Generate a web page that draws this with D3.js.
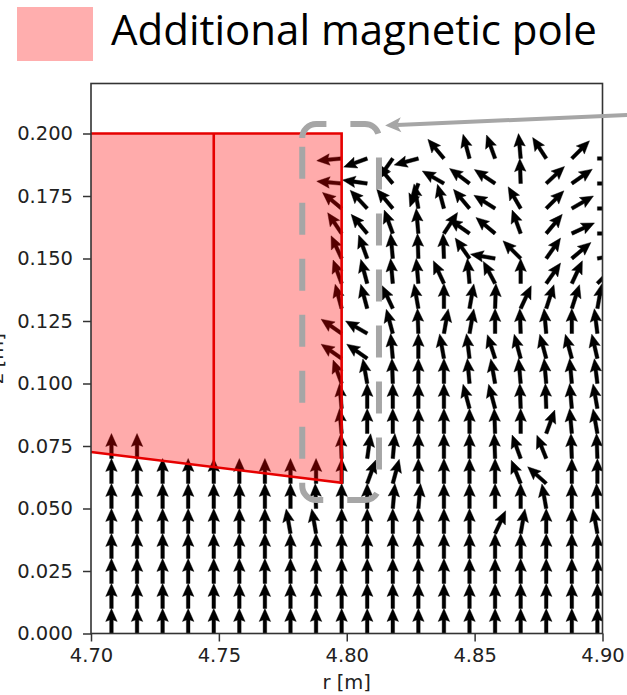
<!DOCTYPE html>
<html><head><meta charset="utf-8">
<script src="https://cdn.jsdelivr.net/npm/d3@7"></script>
<style>body{margin:0;background:#fff}svg{display:block}</style>
</head><body>
<svg id="chart" width="627" height="695"></svg>
<script>
const N = null;
// grid of arrow tails (r in m, z in m); rows of angles listed top (z=0.19) to bottom (z=0.00)
const rGrid = [4.708, 4.718, 4.728, 4.738, 4.748, 4.758, 4.768, 4.778, 4.788, 4.798,
               4.808, 4.818, 4.828, 4.838, 4.848, 4.858, 4.868, 4.878, 4.888, 4.898];
const zGrid = [0.19, 0.18, 0.17, 0.16, 0.15, 0.14, 0.13, 0.12, 0.11, 0.10,
               0.09, 0.08, 0.07, 0.06, 0.05, 0.04, 0.03, 0.02, 0.01, 0.00];
// field direction in degrees (0 = +r, 90 = +z); null = inside the pole, no arrow
const fieldAngle = [
  [N,N,N,N,N,N,N,N,N, 185,200,235,195,130,105,110, 95,123, 45,  0],
  [N,N,N,N,N,N,N,N,N, 175,172,130,250,150,143,146, 92, 43, 35,  0],
  [N,N,N,N,N,N,N,N,N, 140,133,130,100,105,130,148,120, 45, 30,  0],
  [N,N,N,N,N,N,N,N,N, 124,130,110, 95, 57,145,140,110, 50, 25,  0],
  [N,N,N,N,N,N,N,N,N, 115,110, 95, 92, 92,125,170,135, 55, 40, 10],
  [N,N,N,N,N,N,N,N,N, 110,105, 95, 95,115, 95,118, 90, 55, 65, 45],
  [N,N,N,N,N,N,N,N,N, 105,105,115,100, 90, 80, 88, 65, 72, 72, 80],
  [N,N,N,N,N,N,N,N,N, 145,150,105, 92, 80, 80, 90, 92, 95, 90, 97],
  [N,N,N,N,N,N,N,N,N, 145,145, 95, 90,100, 97,108,105,105,105,103],
  [N,N,N,N,N,N,N,N,N, 110,100, 92, 90, 90, 95,100, 95, 95, 95, 97],
  [N,N,N,N,N,N,N,N,N,  95, 90, 90, 90, 90,105,105, 92, 92, 95,100],
  [N,N,N,N,N,N,N,N,N,  95, 90, 90, 90, 90, 90, 92, 90, 70, 95,100],
  [90,90,N,N,N,N,N,N,N, 92, 82, 85, 90, 90, 90, 92,110,112, 92, 92],
  [90,90,90,90,90,90,90,90,90, 90, 70, 75, 90, 90, 90, 90,112,138, 90, 90],
  [90,90,90,90,90,90,90,90,92, 90, 90, 85, 85, 90, 90, 90, 90,100, 90, 92],
  [90,90,90,90,90,90,90,100,100, 90, 90, 90, 90, 90, 90, 65, 80, 90, 90,100],
  [90,90,90,90,90,90,90,90,90, 90, 90, 90, 90, 90, 90, 90, 90, 90, 90, 90],
  [90,90,90,90,90,90,90,90,90, 90, 90, 90, 90, 90, 90, 90, 90, 90, 90, 90],
  [90,90,90,90,90,90,90,90,90, 90, 90, 90, 90, 90, 90, 90, 90, 90, 90, 90],
  [90,90,90,90,90,90,90,90,90, 90, 90, 90, 90, 90, 90, 90, 90, 90, 90, 90]
];
const arrowStep = 0.01;           // arrow length in z units (one grid step)
const xTicks = [4.70, 4.75, 4.80, 4.85, 4.90];
const yTicks = [0, 0.025, 0.05, 0.075, 0.1, 0.125, 0.15, 0.175, 0.2];
const poleR = [4.700, 4.700, 4.798, 4.798];
const poleZ = [0.0726, 0.200, 0.200, 0.0603];
const dividerR = [4.748, 4.748];
const dividerZ = [0.0666, 0.200];
const boxR = [4.7826, 4.8126];
const boxZ = [0.0534, 0.2038];
const pointerR = [4.9096, 4.815];
const pointerZ = [0.2074, 0.2032];
const legendLabel = "Additional magnetic pole";
const xLabel = "r [m]";
const yLabel = "z [m]";

const svg = d3.select("#chart");
const x = d3.scaleLinear().domain([4.70, 4.90]).range([91, 602.5]);
const y = d3.scaleLinear().domain([0, 0.22]).range([633.5, 83.5]);
const [x0, x1] = x.range();
const [yB, yT] = y.range();

svg.append("defs").append("clipPath").attr("id", "clip")
  .append("rect").attr("x", x0).attr("y", yT).attr("width", x1 - x0).attr("height", yB - yT);

// arrows
const L = y(0) - y(arrowStep);
const w = 3.6, hw = 11.5, hl = 13, hal = 11.5;
const arrowPts = [[0,-w/2],[L-hal,-w/2],[L-hl,-hw/2],[L,0],[L-hl,hw/2],[L-hal,w/2],[0,w/2]];
const arrowPath = "M" + arrowPts.map(p => p.join(",")).join("L") + "Z";
const cells = [];
zGrid.forEach((z, j) => rGrid.forEach((r, i) => {
  const a = fieldAngle[j][i];
  if (a !== null) cells.push({r, z, a});
}));
svg.append("g").attr("clip-path", "url(#clip)")
  .selectAll("path").data(cells).join("path")
  .attr("d", arrowPath)
  .attr("transform", d => `translate(${x(d.r)},${y(d.z)}) rotate(${-d.a})`)
  .attr("fill", "#000").attr("stroke", "#000").attr("stroke-width", 0.4);

// pole
const polePts = poleR.map((r, k) => [x(r), y(poleZ[k])]);
svg.append("path").attr("d", d3.line()(polePts) + "Z")
  .attr("fill", "#ff0000").attr("fill-opacity", 0.33).attr("stroke", "none");
svg.append("path").attr("d", d3.line()(polePts.slice(1)) + "L" + polePts[0].join(","))
  .attr("fill", "none").attr("stroke", "#e60000").attr("stroke-width", 2.6);
svg.append("line")
  .attr("x1", x(dividerR[0])).attr("y1", y(dividerZ[0]))
  .attr("x2", x(dividerR[1])).attr("y2", y(dividerZ[1]))
  .attr("stroke", "#e60000").attr("stroke-width", 2.6);

// axes
const fontAx = "'DejaVu Sans', sans-serif";
const gx = svg.append("g").attr("transform", `translate(0,${yB})`)
  .call(d3.axisBottom(x).tickValues(xTicks).tickFormat(d3.format(".2f")).tickSize(8).tickPadding(7));
const gy = svg.append("g").attr("transform", `translate(${x0},0)`)
  .call(d3.axisLeft(y).tickValues(yTicks).tickFormat(d3.format(".3f")).tickSize(8).tickPadding(10));
[gx, gy].forEach(g => {
  g.select(".domain").remove();
  g.selectAll(".tick line").attr("stroke", "#333").attr("stroke-width", 1.5);
  g.selectAll(".tick text").attr("fill", "#222").style("font-family", fontAx).style("font-size", "19.5px");
});
svg.append("rect").attr("x", x0).attr("y", yT).attr("width", x1 - x0).attr("height", yB - yT)
  .attr("fill", "none").attr("stroke", "#333").attr("stroke-width", 1.6);
svg.append("text").attr("x", (x0 + x1) / 2).attr("y", 689).attr("text-anchor", "middle")
  .style("font-family", fontAx).style("font-size", "19.5px").attr("fill", "#222").text(xLabel);
svg.append("text").attr("transform", `translate(3,${(yB + yT) / 2}) rotate(-90)`)
  .attr("text-anchor", "middle").style("font-family", fontAx).style("font-size", "19.5px")
  .attr("fill", "#222").text(yLabel);

// annotation: dashed rounded box
const bx0 = x(boxR[0]), bx1 = x(boxR[1]), by0 = y(boxZ[1]), by1 = y(boxZ[0]), rr = 14;
const boxPath = `M${bx0},${by0+rr} A${rr},${rr} 0 0 1 ${bx0+rr},${by0} L${bx1-rr},${by0}
 A${rr},${rr} 0 0 1 ${bx1},${by0+rr} L${bx1},${by1-rr} A${rr},${rr} 0 0 1 ${bx1-rr},${by1}
 L${bx0+rr},${by1} A${rr},${rr} 0 0 1 ${bx0},${by1-rr} Z`;
svg.append("path").attr("d", boxPath).attr("fill", "none").attr("stroke", "#a6a6a6")
  .attr("stroke-width", 6).attr("stroke-dasharray", "32 24");

// annotation: pointer arrow
const px0 = x(pointerR[0]), py0 = y(pointerZ[0]), px1 = x(pointerR[1]), py1 = y(pointerZ[1]);
const ang = Math.atan2(py1 - py0, px1 - px0) * 180 / Math.PI;
const len = Math.hypot(px1 - px0, py1 - py0);
const gp = svg.append("g").attr("transform", `translate(${px0},${py0}) rotate(${ang})`);
gp.append("line").attr("x1", 0).attr("y1", 0).attr("x2", len - 12).attr("y2", 0)
  .attr("stroke", "#a6a6a6").attr("stroke-width", 4);
gp.append("path").attr("d", `M${len},0 L${len-16},-7.5 L${len-12},0 L${len-16},7.5 Z`).attr("fill", "#a6a6a6");

// legend
svg.append("rect").attr("x", 17).attr("y", 7).attr("width", 76).attr("height", 54).attr("fill", "#ffaeae");
const lt = svg.append("text").attr("x", 111).attr("y", 45)
  .style("font-family", "'Open Sans', Lato, sans-serif").style("font-size", "40px").attr("fill", "#000")
  .text(legendLabel);
const wNow = lt.node().getComputedTextLength();
lt.style("font-size", (40 * 486 / wNow).toFixed(2) + "px");
</script>
</body></html>
